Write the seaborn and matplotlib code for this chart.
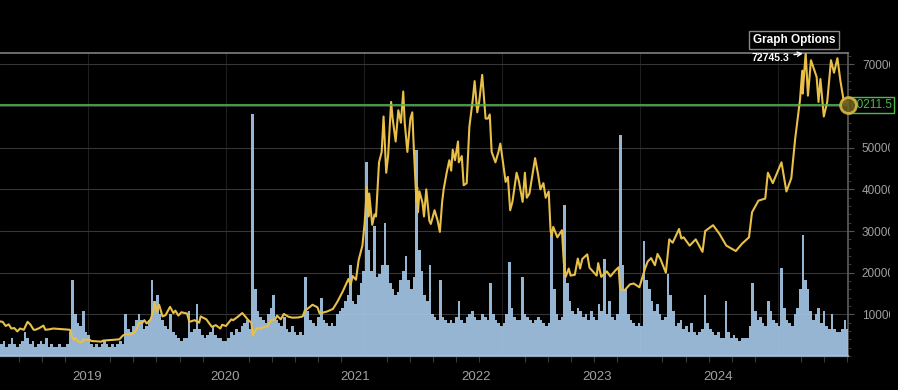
import matplotlib
matplotlib.use("Agg")
import matplotlib.pyplot as plt
import matplotlib.dates as mdates
from matplotlib.ticker import MultipleLocator
from matplotlib.transforms import Bbox, TransformedBbox, blended_transform_factory
import seaborn as sns
import pandas as pd


# Price (USD)
price_dates = [
    "2018-05-13", "2018-05-20", "2018-05-28", "2018-06-05", "2018-06-12", "2018-06-20", "2018-06-28",
    "2018-07-05", "2018-07-15", "2018-07-25", "2018-08-01", "2018-08-10", "2018-08-15", "2018-08-25",
    "2018-09-05", "2018-09-10", "2018-09-20", "2018-10-01", "2018-10-15", "2018-11-01", "2018-11-14",
    "2018-11-20", "2018-11-25", "2018-11-28", "2018-12-07", "2018-12-15", "2018-12-20", "2018-12-25",
    "2019-01-05", "2019-01-10", "2019-01-20", "2019-02-05", "2019-02-10", "2019-02-25", "2019-03-10",
    "2019-03-25", "2019-04-03", "2019-04-10", "2019-04-25", "2019-05-05", "2019-05-12", "2019-05-15",
    "2019-05-25", "2019-05-30", "2019-06-05", "2019-06-15", "2019-06-22", "2019-06-26", "2019-07-02",
    "2019-07-08", "2019-07-17", "2019-07-25", "2019-08-06", "2019-08-15", "2019-08-20", "2019-08-28",
    "2019-09-05", "2019-09-20", "2019-09-26", "2019-10-10", "2019-10-22", "2019-10-26", "2019-11-10",
    "2019-11-22", "2019-11-25", "2019-12-05", "2019-12-17", "2019-12-22",
    "2020-01-01", "2020-01-15", "2020-01-20", "2020-02-01", "2020-02-13", "2020-02-20", "2020-02-28",
    "2020-03-08", "2020-03-12", "2020-03-19", "2020-03-25", "2020-04-01", "2020-04-10", "2020-04-20",
    "2020-04-30", "2020-05-10", "2020-05-15", "2020-05-25", "2020-06-02", "2020-06-15", "2020-06-25",
    "2020-07-10", "2020-07-22", "2020-07-28", "2020-08-02", "2020-08-17", "2020-08-30", "2020-09-05",
    "2020-09-25", "2020-10-10", "2020-10-21", "2020-11-05", "2020-11-20", "2020-11-26", "2020-12-01",
    "2020-12-10", "2020-12-17", "2020-12-27",
    "2021-01-02", "2021-01-08", "2021-01-12", "2021-01-14", "2021-01-22", "2021-01-28", "2021-02-01",
    "2021-02-09", "2021-02-16", "2021-02-21", "2021-02-28", "2021-03-05", "2021-03-13", "2021-03-17",
    "2021-03-25", "2021-04-01", "2021-04-08", "2021-04-14", "2021-04-18", "2021-04-25", "2021-05-03",
    "2021-05-08", "2021-05-12", "2021-05-19", "2021-05-21", "2021-05-23", "2021-05-27", "2021-06-04",
    "2021-06-08", "2021-06-14", "2021-06-22", "2021-06-26", "2021-07-06", "2021-07-14", "2021-07-20",
    "2021-07-26", "2021-07-30", "2021-08-07", "2021-08-14", "2021-08-19", "2021-08-23", "2021-08-29",
    "2021-09-06", "2021-09-08", "2021-09-16", "2021-09-21", "2021-09-29", "2021-10-06", "2021-10-15",
    "2021-10-20", "2021-10-27", "2021-11-01", "2021-11-09", "2021-11-12", "2021-11-18", "2021-11-24",
    "2021-11-29", "2021-12-04", "2021-12-10", "2021-12-14", "2021-12-22", "2021-12-27",
    "2022-01-03", "2022-01-10", "2022-01-16", "2022-01-22", "2022-01-28", "2022-02-08", "2022-02-14",
    "2022-02-24", "2022-03-02", "2022-03-07", "2022-03-14", "2022-03-29", "2022-04-06", "2022-04-12",
    "2022-04-20", "2022-04-26", "2022-05-04", "2022-05-09", "2022-05-12", "2022-05-16", "2022-05-27",
    "2022-06-08", "2022-06-13", "2022-06-18", "2022-06-26", "2022-07-01", "2022-07-12", "2022-07-20",
    "2022-07-26", "2022-08-01", "2022-08-14", "2022-08-20", "2022-09-08", "2022-09-12", "2022-09-20",
    "2022-10-05", "2022-10-14", "2022-10-28", "2022-11-05", "2022-11-09", "2022-11-21", "2022-12-05",
    "2022-12-15", "2022-12-30",
    "2023-01-14", "2023-01-21", "2023-01-30", "2023-02-09", "2023-02-16", "2023-02-24", "2023-03-10",
    "2023-03-19", "2023-03-28", "2023-04-14", "2023-04-20", "2023-04-26", "2023-05-12", "2023-05-28",
    "2023-06-15", "2023-06-22", "2023-07-13", "2023-07-30", "2023-08-17", "2023-09-11", "2023-09-28",
    "2023-10-16", "2023-10-24", "2023-11-10", "2023-11-28", "2023-12-05", "2023-12-18",
    "2024-01-10", "2024-01-23", "2024-02-05", "2024-02-15", "2024-02-28", "2024-03-05", "2024-03-06",
    "2024-03-14", "2024-03-20", "2024-03-28", "2024-04-12", "2024-04-17", "2024-04-22", "2024-05-01",
    "2024-05-10", "2024-05-20", "2024-05-28", "2024-06-06", "2024-06-14", "2024-06-24", "2024-06-28",
    "2024-07-04",
]
price_values = [
    8300, 8200, 7200, 7600, 6600, 6700, 5900,
    6600, 6300, 8200, 7600, 6300, 6300, 6700,
    7300, 6300, 6400, 6600, 6500, 6400, 6300,
    4500, 3900, 4300, 3400, 3250, 4000, 3900,
    3900, 3600, 3550, 3450, 3700, 3800, 3900,
    4000, 4900, 5200, 5200, 5800, 7000, 7900,
    8000, 8600, 7800, 8700, 10500, 12800, 10600,
    12300, 9500, 9800, 11800, 10300, 10900, 9700,
    10500, 10200, 8200, 8600, 8000, 9500, 8800,
    7300, 7000, 7400, 6600, 7500,
    7200, 8800, 8600, 9400, 10300, 9600, 8700,
    8000, 4900, 6200, 6700, 6600, 6900, 7100,
    8700, 8700, 9700, 8800, 10100, 9400, 9200,
    9250, 9500, 11000, 11200, 12300, 11700, 10200,
    10700, 11300, 12900, 15500, 18500, 17100, 19200,
    18300, 23000, 26500,
    32000, 40500, 33500, 39000, 31500, 34000, 33500,
    46500, 49000, 57500, 44000, 48000, 61000, 57000,
    51500, 59000, 56000, 63500, 56000, 49000, 57000,
    58500, 50000, 37000, 40500, 34500, 39500, 36800,
    33500, 40000, 32500, 31700, 35000, 32500, 29800,
    37000, 40000, 44000, 47000, 44500, 49500, 47000,
    51500, 46500, 48000, 41000, 41500, 55000, 61500,
    66000, 58500, 61000, 67500, 64000, 57000, 57000,
    58000, 49000, 47500, 46500, 49000, 51000,
    46500, 41800, 43000, 35000, 37000, 44000, 42000,
    37000, 44000, 38000, 39000, 47500, 43500, 40000,
    41500, 38000, 39500, 30000, 28800, 31000, 28500,
    30200, 22500, 19000, 21000, 19300, 19500, 23400,
    21000, 23300, 24400, 21200, 19300, 22300, 19000,
    20300, 19100, 20600, 21300, 16000, 15800, 17200,
    17400, 16500,
    21000, 22700, 23500, 21800, 24500, 23200, 20000,
    28000, 27200, 30500, 28200, 28500, 26500, 28000,
    25000, 30000, 31400, 29300, 26500, 25200, 27000,
    28500, 34500, 37300, 37800, 44000, 41500,
    46500, 39500, 42700, 52000, 61500, 68500, 63000,
    72745.3, 62500, 71000, 67000, 61000, 66500, 57500,
    61000, 71000, 68000, 71500, 66000, 60500, 61500,
    60211.5,
]

# Weekly volume (billion USD), weeks starting at volume_start
volume_start = "2018-05-13"
volume_values = [
    4, 5, 3, 4, 6, 4, 3,
    4, 5, 8, 6, 4, 5, 3, 4, 5,
    4, 6, 3, 4, 3, 3, 4, 3, 3, 4,
    8, 25, 14, 11,
    10, 15, 8, 7,
    4, 3, 4, 3, 4, 5, 4, 3, 4, 3, 4, 5, 4,
    14, 9, 8, 10, 12,
    14, 12, 9, 10, 12, 25, 18, 20, 14,
    12, 10, 9, 14, 8, 7, 6, 5, 6,
    6, 15, 8, 9, 17, 9, 7, 6, 7,
    8, 10, 7, 6, 6, 5, 5,
    6, 8, 7, 9, 8, 10, 11, 12, 9,
    80,
    22, 15,
    13, 12, 11, 14, 16, 20, 12, 11, 10,
    13, 9, 8, 10, 8, 7, 8, 7,
    26,
    15, 12, 11, 10, 13, 19, 12, 11, 10,
    11, 10, 14, 15, 16, 18, 20, 30, 18,
    17, 20, 24, 28,
    64, 35, 28, 43,
    26, 27, 30, 44, 30, 24, 22, 20, 21, 25,
    28, 33, 25, 22, 26,
    68, 35, 28, 20,
    18, 30, 14, 13, 12, 25, 13, 12, 11, 12,
    11, 13, 18, 12, 11, 13, 14, 15, 13, 12,
    12, 14, 13, 12, 24, 14, 12, 11, 10,
    11, 14, 31, 16, 13, 12, 12, 26, 14,
    13, 12, 11, 12, 13, 12, 11, 10, 11,
    40, 22, 14, 12, 13,
    50, 24, 18, 15,
    14, 16, 15, 13, 14, 12, 15, 13, 12,
    17, 15, 32, 14, 18, 13, 12, 14,
    73,
    30, 22, 14, 12, 11, 10, 11, 10,
    38, 25, 22, 18, 15, 17, 14, 12, 13,
    27, 20, 15,
    10, 11, 12, 9, 10, 8, 11, 8, 7,
    8, 9, 20, 11, 9, 8, 7, 8, 6,
    6, 18, 8, 6, 7, 6, 5, 6, 6,
    6, 10, 24, 15, 12, 13, 11, 10,
    18, 15, 12, 11, 10, 29, 16, 12, 11,
    10, 14, 16, 22, 40, 25, 22, 15, 12,
    14, 16, 11, 15, 10, 9, 14, 9, 8, 8, 9, 12, 9,
]

year_labels = ["2019", "2020", "2021", "2022", "2023", "2024"]
year_label_pos = ["2018-12-29", "2019-12-29", "2020-12-08", "2021-10-25", "2022-09-10", "2023-07-25"]
price_ticks = [10000, 20000, 30000, 40000, 50000, 60000, 70000]
last_price = 60211.5
peak_price = 72745.3

assert len(price_dates) == len(price_values)

sns.set_theme(style="dark", rc={
    "axes.facecolor": "black",
    "figure.facecolor": "black",
    "savefig.facecolor": "black",
})
plt.rcParams["font.family"] = ["Liberation Sans", "DejaVu Sans"]

pdates = pd.to_datetime(price_dates)
vdates = pd.date_range(volume_start, periods=len(volume_values), freq="7D")
x0, x1 = pd.Timestamp("2018-05-13"), pd.Timestamp("2024-07-04")

fig = plt.figure(figsize=(8.98, 3.9), dpi=100)
ax = fig.add_axes([0, 34 / 390, 848 / 898, 303 / 390])

# volume (middle layer)
axv = ax.twinx()
axv.bar(vdates, volume_values, width=7, align="edge", color="#a4c6e6", alpha=0.92, linewidth=0)
axv.set_ylim(0, 100)
axv.set_xlim(x0, x1)
axv.axis("off")

# price (top layer)
axp = ax.twinx()
sns.lineplot(x=pdates, y=price_values, ax=axp, color="#e8bf48", lw=1.5, sort=False)
axp.set_xlim(x0, x1)
axp.set_ylim(0, peak_price)
axp.axis("off")
axp.axhline(last_price, color="#4cbb4c", lw=1.2)

# back layer: grid, frame and right ticks (set after twinx, which moves ticks left)
ax.set_xlim(x0, x1)
ax.set_ylim(0, peak_price)
ax.yaxis.tick_right()
ax.set_yticks(price_ticks)
# the 60000 label sits under the last-price box in the source
ax.set_yticklabels(["" if t == 60000 else str(t) for t in price_ticks])
ax.yaxis.set_minor_locator(MultipleLocator(2000))
ax.tick_params(axis="y", which="major", left=False, right=True, labelleft=False, labelright=True,
               length=4, width=0.8, color="#555555", labelcolor="#a0a0a0", labelsize=8.5, pad=6)
ax.tick_params(axis="y", which="minor", left=False, right=True, length=2.5, width=0.6, color="#444444")
ax.xaxis.set_major_locator(mdates.YearLocator())
ax.xaxis.set_minor_locator(mdates.MonthLocator(bymonth=[1, 3, 5, 7, 9, 11]))
ax.tick_params(axis="x", which="major", length=0, labelbottom=False)
ax.tick_params(axis="x", which="minor", length=4, width=0.8, color="#3a3a3a", bottom=True)
ax.grid(axis="y", which="major", color="#363636", lw=0.8)
ax.grid(axis="x", which="major", color="#1e1e1e", lw=0.8)
ax.spines["left"].set_visible(False)
ax.spines["top"].set_color("#7a7a7a")
ax.spines["right"].set_color("#5a5a5a")
ax.spines["bottom"].set_color("#8aa3ba")
ax.spines["bottom"].set_linewidth(1.6)

# tick labels are cut by the panel edge, as in the source screenshot
clip = TransformedBbox(Bbox([[0, 0], [890 / 898, 1]]), fig.transFigure)
for tick in ax.yaxis.get_major_ticks():
    tick.label2.set_clip_box(clip)
    tick.label2.set_clip_on(True)

for lab, pos in zip(year_labels, year_label_pos):
    ax.text(pd.Timestamp(pos), -0.07, lab, transform=blended_transform_factory(ax.transData, ax.transAxes),
            ha="center", va="center", color="#a0a0a0", fontsize=9.5)

axp.scatter([pdates[-1]], [last_price], s=130, facecolor="#6b5a1e", edgecolor="#d8b844",
            linewidth=2, alpha=0.9, zorder=6, clip_on=False)
axp.annotate(f"{last_price:.1f}", xy=(1, last_price), xycoords=("axes fraction", "data"),
             xytext=(1.5, 0), textcoords="offset points", ha="left", va="center",
             color="#4cbb4c", fontsize=8.5,
             bbox=dict(boxstyle="square,pad=0.15", fc="black", ec="#4cbb4c", lw=1),
             annotation_clip=False, zorder=5)

peak_i = price_values.index(peak_price)
axp.annotate(f"{peak_price:.1f}", xy=(pdates[peak_i], peak_price), xytext=(-39, -3.5),
             textcoords="offset points", ha="left", va="center", color="white",
             fontsize=7.5, fontweight="bold",
             arrowprops=dict(arrowstyle="->", color="white", lw=1, shrinkA=1, shrinkB=2),
             annotation_clip=False, zorder=7)

fig.text(794 / 898, 1 - 40 / 390, "Graph Options", ha="center", va="center", color="white",
         fontsize=8.5, fontweight="bold",
         bbox=dict(boxstyle="square,pad=0.28", fc="black", ec="#888888", lw=1))

fig.savefig("out.png", dpi=100, facecolor="black")
